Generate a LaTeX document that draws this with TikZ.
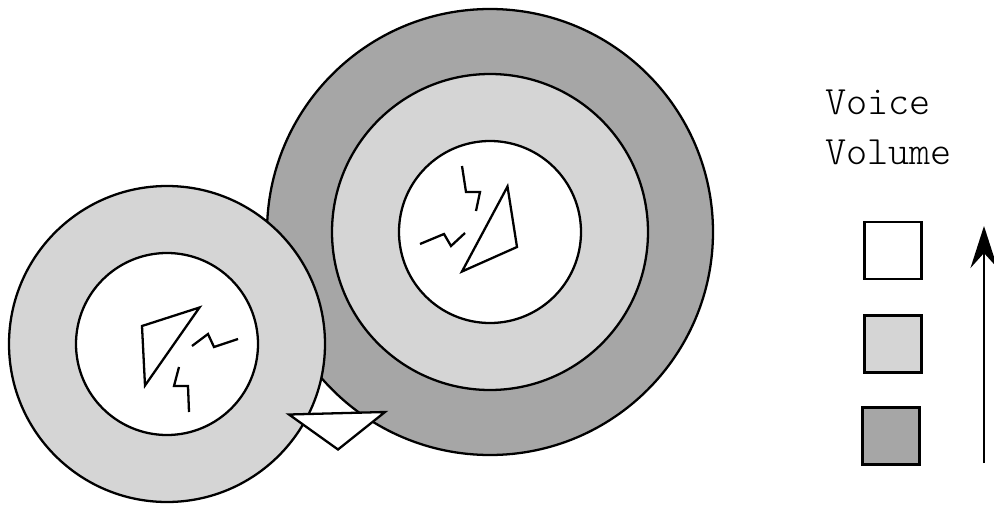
\documentclass[tikz,border=0pt]{standalone}
\usepackage{xcolor}
\usepackage{tikz}
\usetikzlibrary{arrows.meta, positioning}
\definecolor{volAlto}{HTML}{A6A6A6}
\definecolor{volMedio}{HTML}{D5D5D5}
\tikzset{
    disco/.style   = {draw=black, line width=1.3pt},
    raio/.style    = {draw=black, line width=1.3pt, line join=miter},
    antena/.style  = {draw=black, fill=white, line width=1.3pt, line join=miter},
    legenda/.style = {draw=black, line width=1.4pt, minimum size=1.14cm, inner sep=0pt},
    lig/.style     = {-{Stealth[length=8.4mm, width=5.4mm, inset=3.0mm]}, line width=1.3pt, black},
}
\begin{document}
\begin{tikzpicture}
        \useasboundingbox (0,0) rectangle (19.88,10.12);
        \fill[white] (0,0) rectangle (19.88,10.12);
        % celula maior
        \draw[disco, fill=volAlto] (9.80,5.48) circle (4.46);
        \draw[disco, fill=volMedio] (9.80,5.48) circle (3.16);
        \draw[disco, fill=white] (9.80,5.48) circle (1.82);
        % celula menor
        \draw[disco, fill=volMedio] (3.34,3.24) circle (3.16);
        \draw[disco, fill=white] (3.34,3.24) circle (1.82);
        % interior da celula maior
        \draw[antena] (10.15,6.39) -- (10.34,5.18) -- (9.24,4.69) -- cycle;
        \draw[raio] (9.24,6.80) -- (9.32,6.28) -- (9.60,6.28) -- (9.52,5.90);
        \draw[raio] (8.40,5.24) -- (8.88,5.44) -- (9.02,5.20) -- (9.30,5.46);
        % interior da celula menor
        \draw[antena] (3.99,3.97) -- (2.84,3.60) -- (2.90,2.41) -- cycle;
        \draw[raio] (3.84,3.20) -- (4.16,3.44) -- (4.28,3.18) -- (4.76,3.34);
        \draw[raio] (3.58,2.78) -- (3.48,2.40) -- (3.76,2.40) -- (3.78,1.88);
        % triangulo entre as celulas
        \draw[antena] (5.78,1.83) -- (7.70,1.88) -- (6.76,1.13) -- cycle;
        % legenda
        \node[anchor=base west, inner sep=0pt, align=left, font=\ttfamily\fontseries{l}\fontsize{22.9}{27.9}\selectfont]
            (titulo) at (16.50,6.84) {Voice\\Volume};
        \node[legenda, fill=white] (legBaixo) at (17.86,5.11) {};
        \node[legenda, fill=volMedio] (legMedio) at (17.86,3.24) {};
        \node[legenda, fill=volAlto] (legAlto) at (17.82,1.40) {};
        % seta do volume
        \coordinate (setaBase) at (19.68,0.86);
        \coordinate (setaTopo) at (19.68,5.60);
        \draw[lig] (setaBase) -- (setaTopo);
    \end{tikzpicture}
\end{document}
